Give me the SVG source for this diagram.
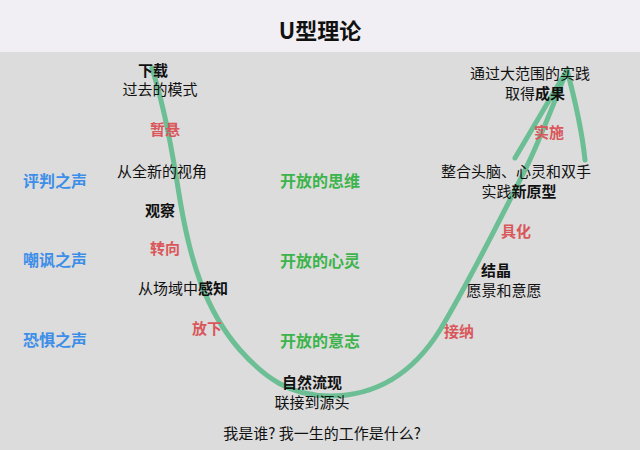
<svg xmlns="http://www.w3.org/2000/svg" width="640" height="450" viewBox="0 0 640 450">
<style>
text{font-family:"Noto Sans CJK SC","Liberation Sans",sans-serif;font-size:15px;text-anchor:middle;fill:#111}
.b{font-weight:bold}
.r{fill:#d9575a;font-weight:bold}
.g{fill:#3cb44b;font-weight:bold;font-size:16px}
.u{fill:#3d8ee8;font-weight:bold;font-size:16px}
.c{fill:none;stroke:#5fba8c;stroke-width:5;stroke-linecap:round;stroke-linejoin:round;opacity:.9}
</style>
<rect width="640" height="450" fill="#dcdcdc"/>
<rect width="640" height="52" fill="#f1eff3"/>
<text x="320" y="39" style="font-size:22px;font-weight:bold">U型理论</text>
<g id="connectors">
<path class="c" d="M152,68 C165,110 172,150 180,200 C190,260 205,310 240,350 C265,378 290,396 330,396 C380,396 415,370 440,330 C470,280 500,220 525,170 C540,140 555,100 567,70"/>
<path class="c" d="M567,70 L515,158 M567,70 C575,100 582,130 585,160"/>
</g>
<g id="n1"><text x="153" y="76" class="b">下载</text><text x="160" y="95">过去的模式</text></g>
<g id="n2"><text x="165" y="135" class="r">暂悬</text></g>
<g id="n3"><text x="162" y="177">从全新的视角</text></g>
<g id="n4"><text x="160" y="216" class="b">观察</text></g>
<g id="n5"><text x="165" y="254" class="r">转向</text></g>
<g id="n6"><text x="183" y="294">从场域中<tspan class="b">感知</tspan></text></g>
<g id="n7"><text x="207" y="334" class="r">放下</text></g>
<g id="n8"><text x="312" y="388" class="b">自然流现</text><text x="312" y="408">联接到源头</text></g>
<g id="n9"><text x="459" y="337" class="r">接纳</text></g>
<g id="n10"><text x="496" y="276" class="b">结晶</text><text x="504" y="296">愿景和意愿</text></g>
<g id="n11"><text x="516" y="237" class="r">具化</text></g>
<g id="n12"><text x="516" y="177">整合头脑、心灵和双手</text><text x="519" y="197">实践<tspan class="b">新原型</tspan></text></g>
<g id="n13"><text x="549" y="138" class="r">实施</text></g>
<g id="n14"><text x="530" y="79">通过大范围的实践</text><text x="535" y="99">取得<tspan class="b">成果</tspan></text></g>
<g id="s1"><text x="55" y="187" class="u">评判之声</text><text x="320" y="187" class="g">开放的思维</text></g>
<g id="s2"><text x="55" y="266" class="u">嘲讽之声</text><text x="320" y="267" class="g">开放的心灵</text></g>
<g id="s3"><text x="55" y="346" class="u">恐惧之声</text><text x="320" y="347" class="g">开放的意志</text></g>
<g id="q"><text x="322" y="439">我是谁? 我一生的工作是什么?</text></g>
</svg>
